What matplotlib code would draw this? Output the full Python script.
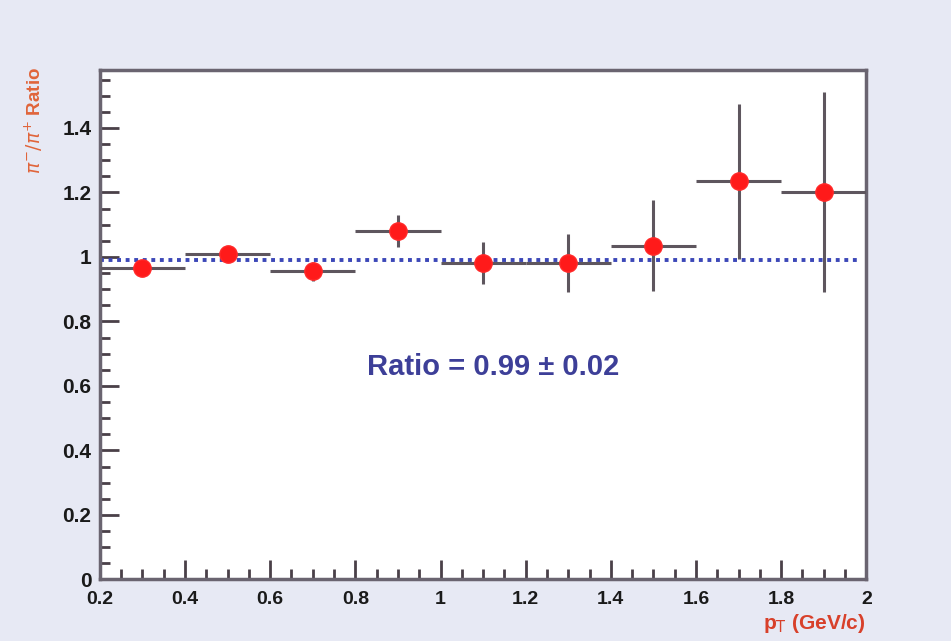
import matplotlib
matplotlib.use("Agg")
import matplotlib.pyplot as plt
from matplotlib.ticker import MultipleLocator, FixedLocator

# data
pt_centers = [0.3, 0.5, 0.7, 0.9, 1.1, 1.3, 1.5, 1.7, 1.9]
pt_halfwidth = [0.1, 0.1, 0.1, 0.1, 0.1, 0.1, 0.1, 0.1, 0.1]
ratio = [0.965, 1.01, 0.955, 1.08, 0.98, 0.98, 1.035, 1.235, 1.20]
ratio_err = [0.02, 0.02, 0.03, 0.05, 0.065, 0.09, 0.14, 0.24, 0.31]
fit_value = 0.99
x_ticks = [0.2, 0.4, 0.6, 0.8, 1.0, 1.2, 1.4, 1.6, 1.8, 2.0]
x_ticklabels = ["0.2", "0.4", "0.6", "0.8", "1", "1.2", "1.4", "1.6", "1.8", "2"]
y_ticks = [0, 0.2, 0.4, 0.6, 0.8, 1.0, 1.2, 1.4]
y_ticklabels = ["0", "0.2", "0.4", "0.6", "0.8", "1", "1.2", "1.4"]

plt.rcParams['font.family'] = ['Liberation Sans', 'DejaVu Sans']

fig = plt.figure(figsize=(9.51, 6.41), dpi=100, facecolor="#e7e9f4")
ax = fig.add_axes([0.105, 0.096, 0.806, 0.795])
ax.set_facecolor("white")

ax.set_xlim(0.2, 2.0)
ax.set_ylim(0, 1.58)

ax.axhline(fit_value, xmin=0, xmax=0.992, color="#3c48b8", lw=2.8,
           linestyle=(0, (1.0, 1.2)), zorder=2)

ax.errorbar(pt_centers, ratio, xerr=pt_halfwidth, yerr=ratio_err, fmt="o",
            color="#ff1a1a", ms=12.5, mec="#ff2a2a", ecolor="#5e565e",
            elinewidth=2.2, capsize=0, zorder=3)

ax.xaxis.set_major_locator(FixedLocator(x_ticks))
ax.set_xticklabels(x_ticklabels)
ax.xaxis.set_minor_locator(MultipleLocator(0.05))
ax.yaxis.set_major_locator(FixedLocator(y_ticks))
ax.set_yticklabels(y_ticklabels)
ax.yaxis.set_minor_locator(MultipleLocator(0.05))

ax.tick_params(axis="both", which="major", direction="in", length=14, width=2,
               color="#4a4048", labelsize=14, top=False, right=False)
ax.tick_params(axis="both", which="minor", direction="in", length=7, width=2,
               color="#4a4048", top=False, right=False)
ax.tick_params(axis="y", labelsize=15, pad=6)
ax.tick_params(axis="x", pad=8)
for lab in ax.get_xticklabels() + ax.get_yticklabels():
    lab.set_fontweight("bold")
    lab.set_color("#1a1a1a")

for s in ax.spines.values():
    s.set_color("#6a6470")
    s.set_linewidth(2.5)

ax.text(0.513, 0.416, "Ratio = 0.99 ± 0.02", transform=ax.transAxes, ha="center",
        va="center", fontsize=21, fontweight="bold", color="#3d3f98")

fig.text(0.036, 0.895, r"$\pi^{-}/\pi^{+}$ Ratio", rotation=90, ha="center",
         va="top", fontsize=13.5, fontweight="bold", color="#e0643a")
fig.text(0.91, 0.028, r"p$_\mathrm{T}$ (GeV/c)", ha="right", va="center",
         fontsize=15, fontweight="bold", color="#d8402a")

fig.savefig("out.png", dpi=100, facecolor=fig.get_facecolor())
